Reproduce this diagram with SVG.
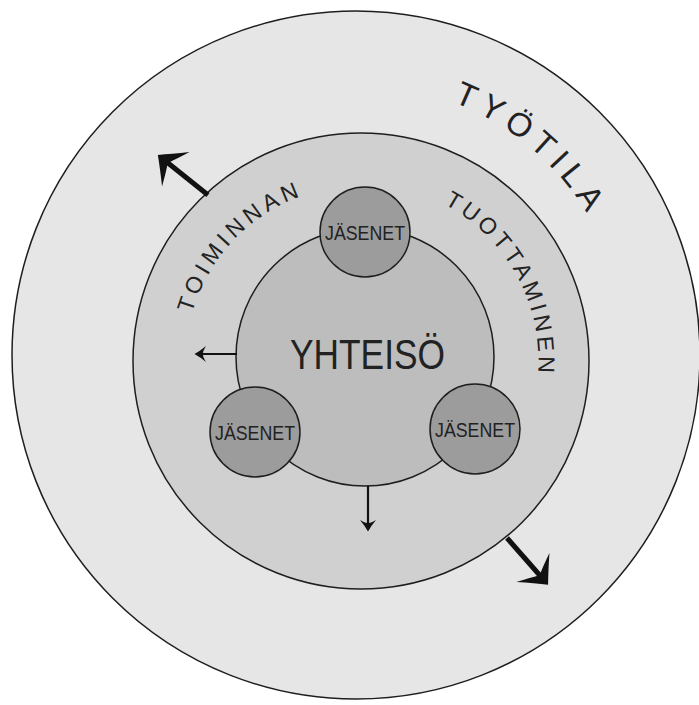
<svg xmlns="http://www.w3.org/2000/svg" width="699" height="705" viewBox="0 0 699 705">
<style>
.ring{stroke:#1e1e1e;stroke-width:1.5}
.lbl{font-family:"Liberation Sans",Arial,sans-serif;fill:#222;text-anchor:middle}
.arc{font-family:"Liberation Sans",Arial,sans-serif;fill:#222}
.mid{font-size:23px}
.out{font-size:33px}
.big{stroke:#111;stroke-width:5;fill:none}
.small{stroke:#111;stroke-width:2.2;fill:none}
.head{fill:#111}
</style>
<defs>
<path id="pOuter" d="M85,355 A271,271 0 1 1 627,355 A271,271 0 1 1 85,355"/>
<path id="pMid1" d="M185.5,361 A175.5,175.5 0 1 1 536.5,361 A175.5,175.5 0 1 1 185.5,361"/>
<path id="pMid2" d="M183.5,361 A177.5,177.5 0 1 1 538.5,361 A177.5,177.5 0 1 1 183.5,361"/>
<marker id="headBig" markerUnits="userSpaceOnUse" orient="auto" refX="0" refY="0" markerWidth="60" markerHeight="60" style="overflow:visible">
<path class="head" d="M13,0 Q3,-9 -10,-22 Q-4,-8 -1,-2.5 L-1,2.5 Q-4,8 -10,22 Q3,9 13,0Z"/>
</marker>
<marker id="headSmall" markerUnits="userSpaceOnUse" orient="auto" refX="0" refY="0" markerWidth="30" markerHeight="30" style="overflow:visible">
<path class="head" d="M8.5,0 Q3,-3 -3,-8 Q0,-3 0,-1 L0,1 Q0,3 -3,8 Q3,3 8.5,0Z"/>
</marker>
</defs>
<rect width="699" height="705" fill="#ffffff"/>
<g id="workspace">
<circle class="ring" cx="356" cy="355" r="344" fill="#e6e6e6"/>
<text class="arc out" letter-spacing="6.6"><textPath href="#pOuter" startOffset="524.4">TYÖTILA</textPath></text>
</g>
<g id="production">
<circle class="ring" cx="361" cy="361" r="228" fill="#d0d0d0"/>
<text class="arc mid" letter-spacing="4.55"><textPath href="#pMid1" startOffset="48.1">TOIMINNAN</textPath></text>
<text class="arc mid" letter-spacing="3.97"><textPath href="#pMid2" startOffset="364.8">TUOTTAMINEN</textPath></text>
</g>
<g id="community">
<circle class="ring" cx="365" cy="357" r="129" fill="#bdbdbd"/>
<text class="lbl" x="367.5" y="369" font-size="43" textLength="155" lengthAdjust="spacingAndGlyphs">YHTEISÖ</text>
</g>
<g id="member-top">
<circle class="ring" cx="365" cy="232" r="45" fill="#9c9c9c"/>
<text class="lbl" x="365" y="240" font-size="21" textLength="80" lengthAdjust="spacingAndGlyphs">JÄSENET</text>
</g>
<g id="member-left">
<circle class="ring" cx="255" cy="432" r="45" fill="#9c9c9c"/>
<text class="lbl" x="255" y="440" font-size="21" textLength="80" lengthAdjust="spacingAndGlyphs">JÄSENET</text>
</g>
<g id="member-right">
<circle class="ring" cx="475" cy="429" r="45" fill="#9c9c9c"/>
<text class="lbl" x="475" y="437" font-size="21" textLength="80" lengthAdjust="spacingAndGlyphs">JÄSENET</text>
</g>
<g id="connectors">
<line class="big" x1="208" y1="195" x2="168" y2="163" marker-end="url(#headBig)"/>
<line class="big" x1="507" y1="538" x2="539.5" y2="575" marker-end="url(#headBig)"/>
<line class="small" x1="237" y1="354" x2="203" y2="354" marker-end="url(#headSmall)"/>
<line class="small" x1="368" y1="486" x2="368" y2="523" marker-end="url(#headSmall)"/>
</g>
</svg>
